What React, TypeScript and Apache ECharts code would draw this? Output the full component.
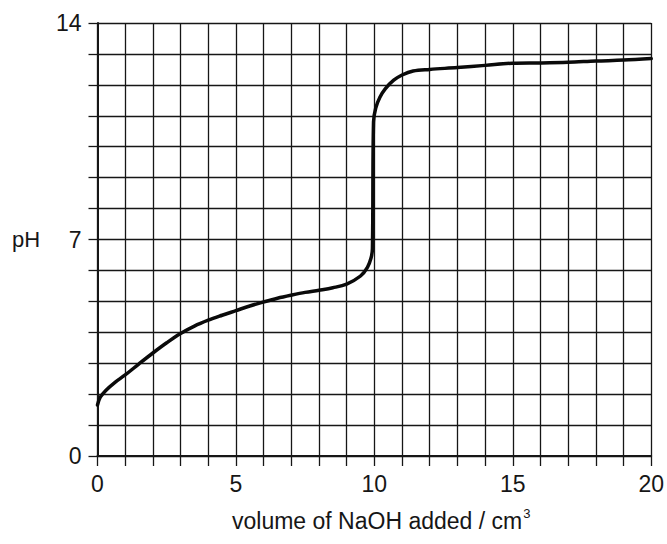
import React, { useEffect, useRef } from "react";
import * as echarts from "echarts";

// Titration curve: volume of NaOH added (cm3) vs pH
const volumes = [
  0, 0.1, 0.3, 0.6, 1, 1.5, 2, 2.5, 3, 3.5, 4, 4.5, 5, 5.5, 6, 6.5, 7, 7.5, 8, 8.5, 9,
  9.5, 9.75, 9.88, 9.93, 9.97, 10.05, 10.2, 10.4, 10.7, 11, 11.4, 12, 13, 14, 15,
  16, 17, 18, 19, 20,
];
const phValues = [
  1.65, 1.9, 2.12, 2.36, 2.62, 2.98, 3.33, 3.66, 3.96, 4.2, 4.39, 4.55, 4.7, 4.85, 4.98,
  5.1, 5.2, 5.29, 5.36, 5.44, 5.56, 5.82, 6.1, 6.4, 6.7, 10.8, 11.25, 11.6, 11.88,
  12.15, 12.32, 12.45, 12.5, 12.56, 12.63, 12.7, 12.71, 12.73, 12.77, 12.8, 12.85,
];
const xTickLabels = [0, 5, 10, 15, 20];
const yTickLabels = [0, 7, 14];

const FONT = "'Liberation Sans', Arial, sans-serif";
const INK = "#161616";

export default function App() {
  const ref = useRef<HTMLDivElement>(null);

  useEffect(() => {
    if (!ref.current) return;
    const chart = echarts.init(ref.current, undefined, { renderer: "svg" });
    const data = volumes.map((v, i) => [v, phValues[i]]);
    chart.setOption({
      animation: false,
      backgroundColor: "#ffffff",
      grid: { left: 97.5, right: 15, top: 23, bottom: 88 },
      xAxis: {
        type: "value",
        min: 0,
        max: 20,
        interval: 1,
        axisLine: { show: true, onZero: false, lineStyle: { color: INK, width: 2 } },
        axisTick: { show: true, length: 10, lineStyle: { color: INK, width: 1.3 } },
        axisLabel: {
          margin: 16,
          fontSize: 23,
          fontFamily: FONT,
          color: INK,
          formatter: (v: number) => (xTickLabels.includes(v) ? String(v) : ""),
        },
        splitLine: { show: true, lineStyle: { color: INK, width: 1.3 } },
      },
      yAxis: {
        type: "value",
        min: 0,
        max: 14,
        interval: 1,
        axisLine: { show: true, onZero: false, lineStyle: { color: INK, width: 2 } },
        axisTick: { show: true, length: 9, lineStyle: { color: INK, width: 1.3 } },
        axisLabel: {
          margin: 16,
          fontSize: 23,
          fontFamily: FONT,
          color: INK,
          formatter: (v: number) => (yTickLabels.includes(v) ? String(v) : ""),
        },
        splitLine: { show: true, lineStyle: { color: INK, width: 1.3 } },
      },
      graphic: [
        {
          type: "text",
          left: 12,
          top: 228,
          style: { text: "pH", fontSize: 22, fontFamily: FONT, fill: INK },
        },
        {
          type: "text",
          left: 232,
          top: 507,
          style: {
            text: "{a|volume of NaOH added / cm}{s|3}",
            fontFamily: FONT,
            fill: INK,
            rich: {
              a: { fontSize: 23, fontFamily: FONT, color: INK, verticalAlign: "bottom" },
              s: { fontSize: 13, fontFamily: FONT, color: INK, verticalAlign: "top", padding: [0, 0, 12, 1] },
            },
          },
        },
      ],
      series: [
        {
          type: "line",
          data,
          showSymbol: false,
          smooth: 0.35,
          lineStyle: { color: "#0a0a0a", width: 3.5, join: "round", cap: "round" },
          z: 5,
        },
      ],
    });
    return () => chart.dispose();
  }, []);

  return (
    <div
      ref={ref}
      style={{ position: "fixed", left: 0, top: 0, width: 667, height: 544 }}
    />
  );
}
